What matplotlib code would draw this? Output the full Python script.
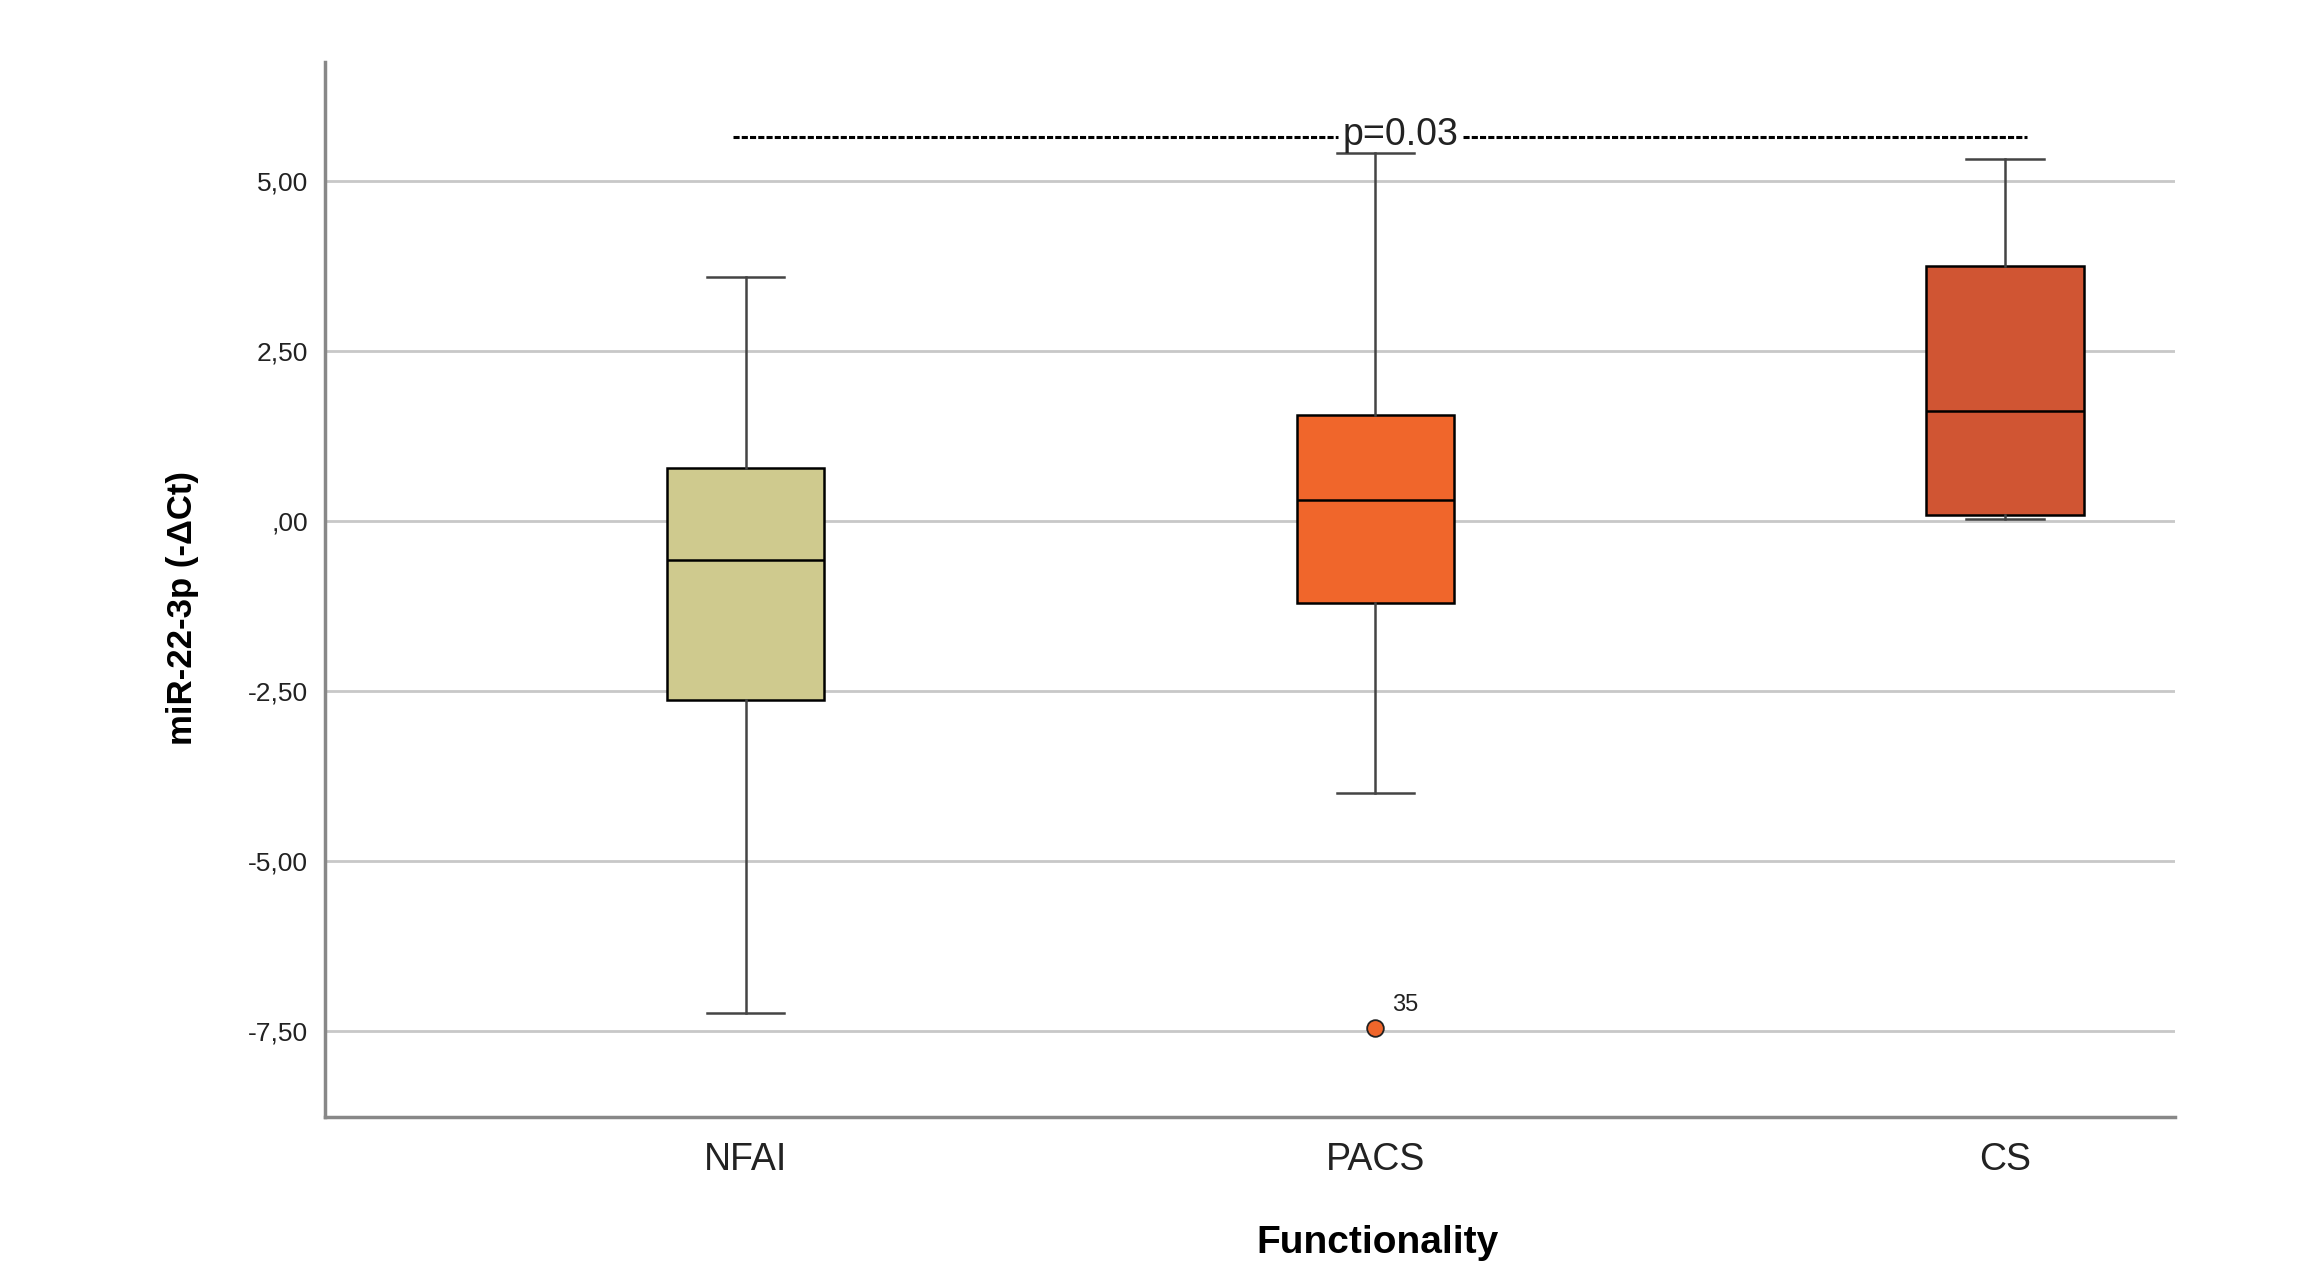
import numpy as np
import matplotlib.pyplot as plt

# values (SPSS-style boxplot)
groups = ['NFAI', 'PACS', 'CS']
whislo = [-7.24, -4.01, 0.02]
q1 = [-2.63, -1.21, 0.09]
med = [-0.58, 0.30, 1.62]
q3 = [0.78, 1.55, 3.75]
whishi = [3.58, 5.41, 5.32]
outliers = [[], [-7.46], []]
outlier_ids = [[], ['35'], []]
colors = ['#CFCA8E', '#F0662B', '#D05533']
yticks = [-7.5, -5.0, -2.5, 0.0, 2.5, 5.0]
ytick_labels = ['-7,50', '-5,00', '-2,50', ',00', '2,50', '5,00']
p_text = 'p=0.03'
p_y = 5.65

fig = plt.figure(figsize=(22.98, 12.71), dpi=100)
ax = fig.add_axes([325 / 2298, 1 - 1117 / 1271, (2175 - 325) / 2298, (1117 - 62) / 1271])

stats = []
for i in range(len(groups)):
    stats.append(dict(med=med[i], q1=q1[i], q3=q3[i], whislo=whislo[i],
                      whishi=whishi[i], fliers=outliers[i], label=groups[i]))

pos = np.arange(len(groups))
bp = ax.bxp(stats, positions=pos, widths=0.25, patch_artist=True, showfliers=True,
            boxprops=dict(edgecolor='black', linewidth=1.8),
            medianprops=dict(color='black', linewidth=1.8),
            whiskerprops=dict(color='#444444', linewidth=1.8),
            capprops=dict(color='#444444', linewidth=1.8),
            capwidths=0.123, zorder=3)
for patch, c in zip(bp['boxes'], colors):
    patch.set_facecolor(c)
for fl, c in zip(bp['fliers'], colors):
    fl.set(marker='o', markerfacecolor=c, markeredgecolor='#222222',
           markersize=12, markeredgewidth=1.3)
for i in range(len(groups)):
    for v, lab in zip(outliers[i], outlier_ids[i]):
        ax.annotate(lab, (pos[i], v), xytext=(12, 12), textcoords='offset points',
                    fontsize=17, color='#222222', family='Liberation Sans')

# significance line with p-value, broken around the label
dash = (0, (2.0, 0.7))
ax.plot([-0.02, 0.94], [p_y, p_y], color='black', linestyle=dash, linewidth=2.2, zorder=4)
ax.plot([1.14, 2.035], [p_y, p_y], color='black', linestyle=dash, linewidth=2.2, zorder=4)
ax.text(1.04, p_y + 0.02, p_text, ha='center', va='center', fontsize=27,
        family='Liberation Sans', color='#222222', zorder=5)

ax.set_xlim(-0.668, 2.27)
ax.set_ylim(-8.77, 6.75)
ax.set_yticks(yticks)
ax.set_yticklabels(ytick_labels, fontsize=19, family='Liberation Sans')
ax.set_xticks(pos)
ax.set_xticklabels(groups, fontsize=27, family='Liberation Sans')
ax.tick_params(axis='both', length=0, colors='#222222')
ax.tick_params(axis='y', pad=12)
ax.tick_params(axis='x', pad=18)
ax.grid(axis='y', color='#C8C8C8', linewidth=2, zorder=0)
ax.set_axisbelow(True)
for s in ['top', 'right']:
    ax.spines[s].set_visible(False)
for s in ['left', 'bottom']:
    ax.spines[s].set_color('#888888')
    ax.spines[s].set_linewidth(2.5)

ax.set_ylabel('miR-22-3p (-ΔCt)', fontsize=25, fontweight='bold', family='Liberation Sans')
ax.yaxis.set_label_coords(-0.068, 0.482)
ax.set_xlabel('Functionality', fontsize=28, fontweight='bold', family='Liberation Sans')
ax.xaxis.set_label_coords(0.569, -0.102)

fig.savefig('out.png', dpi=100, facecolor='white')
